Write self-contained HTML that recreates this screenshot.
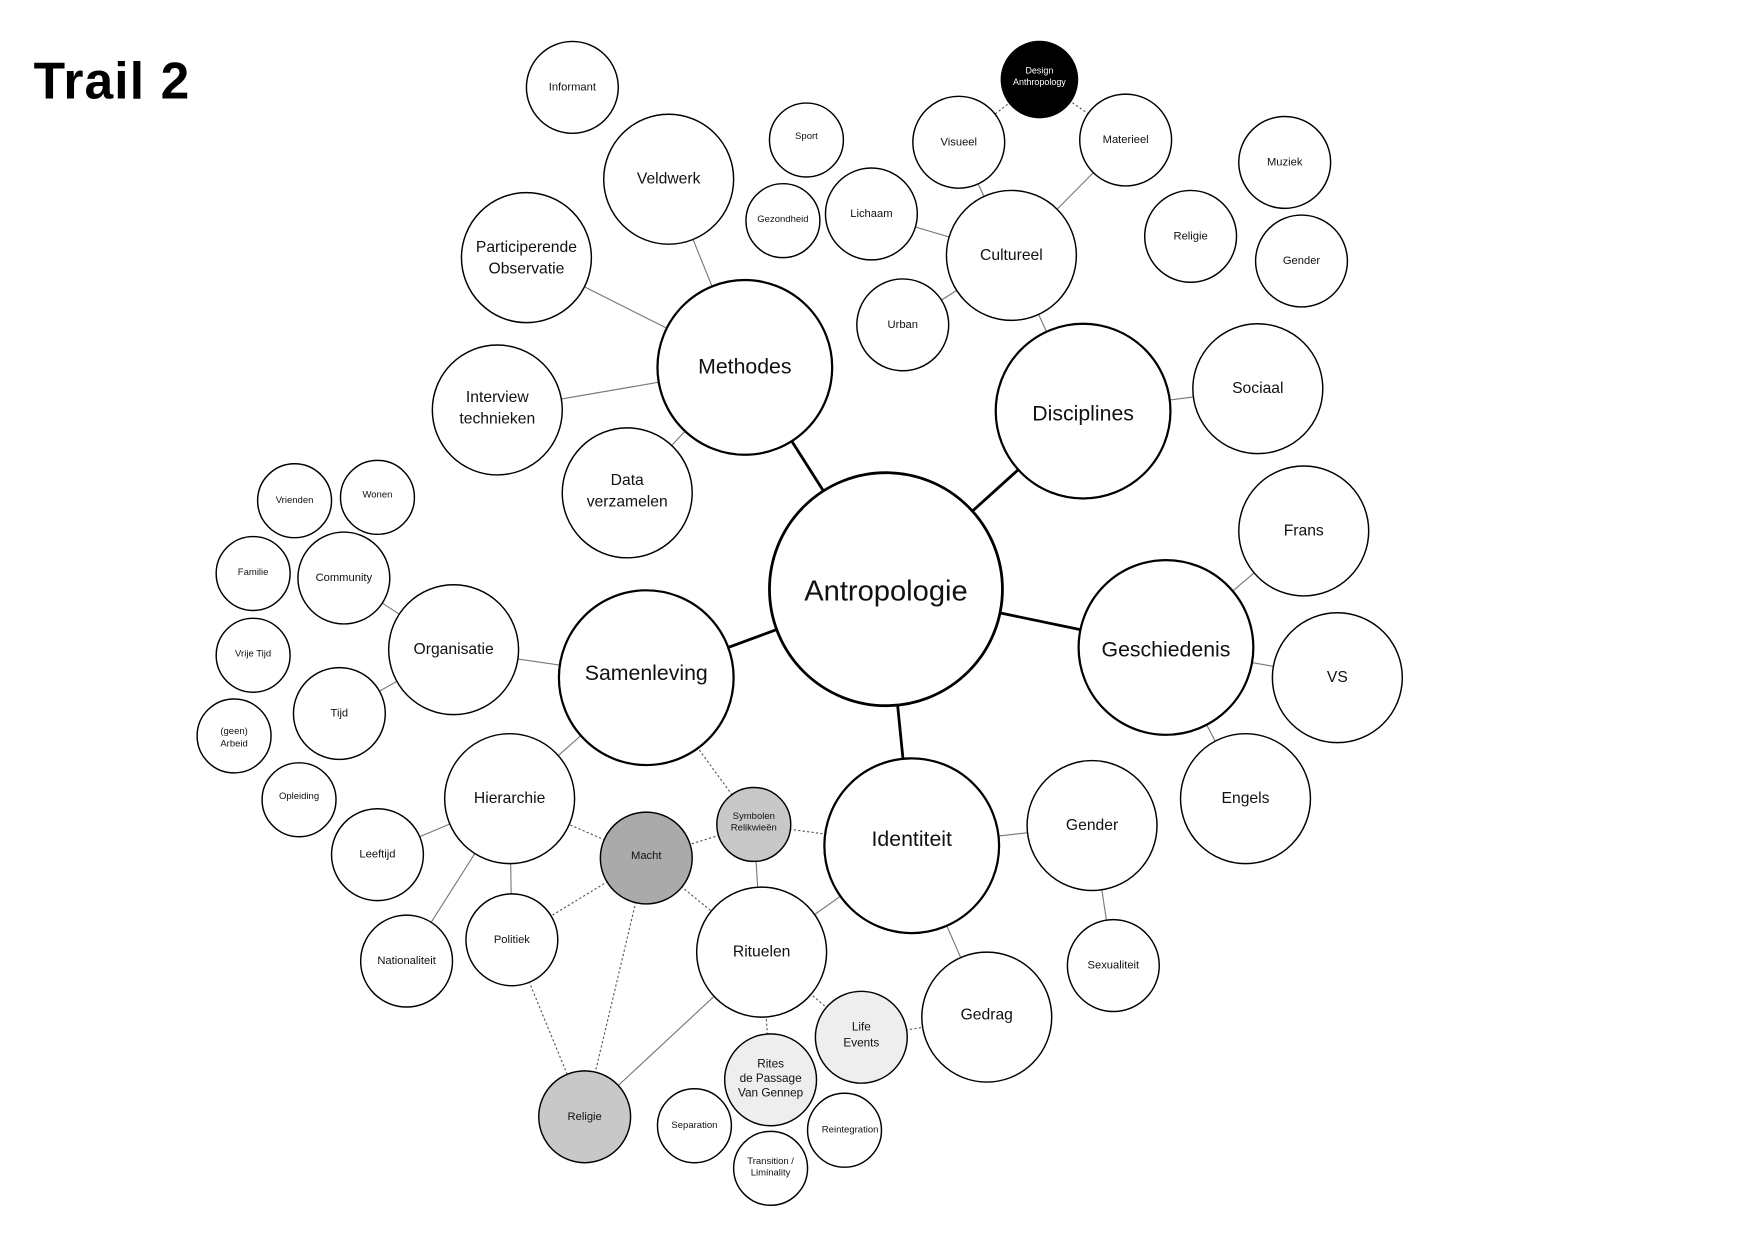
<!DOCTYPE html>
<html><head><meta charset="utf-8"><style>
html,body{margin:0;padding:0;background:#fff;}
svg{display:block;}
text{font-family:"Liberation Sans",sans-serif;text-anchor:middle;dominant-baseline:central;fill:#111;}
</style></head><body>
<svg width="1754" height="1240" viewBox="0 0 1566 1107" preserveAspectRatio="none" xmlns="http://www.w3.org/2000/svg">
<rect width="1566" height="1107" fill="#fff"/>
<text x="30" y="72" style="text-anchor:start;font-size:46px;font-weight:bold;fill:#000;letter-spacing:1px">Trail 2</text>
<g stroke="#000" stroke-width="2.5">
<line x1="791" y1="526" x2="665" y2="328"/>
<line x1="791" y1="526" x2="967" y2="367"/>
<line x1="791" y1="526" x2="1041" y2="578"/>
<line x1="791" y1="526" x2="814" y2="755"/>
<line x1="791" y1="526" x2="577" y2="605"/>
</g>
<g stroke="#777" stroke-width="1">
<line x1="665" y1="328" x2="597" y2="160"/>
<line x1="665" y1="328" x2="470" y2="230"/>
<line x1="665" y1="328" x2="444" y2="366"/>
<line x1="665" y1="328" x2="560" y2="440"/>
<line x1="967" y1="367" x2="903" y2="228"/>
<line x1="967" y1="367" x2="1123" y2="347"/>
<line x1="903" y1="228" x2="856" y2="127"/>
<line x1="903" y1="228" x2="1005" y2="125"/>
<line x1="903" y1="228" x2="778" y2="191"/>
<line x1="903" y1="228" x2="806" y2="290"/>
<line x1="1041" y1="578" x2="1164" y2="474"/>
<line x1="1041" y1="578" x2="1194" y2="605"/>
<line x1="1041" y1="578" x2="1112" y2="713"/>
<line x1="814" y1="755" x2="975" y2="737"/>
<line x1="975" y1="737" x2="994" y2="862"/>
<line x1="814" y1="755" x2="881" y2="908"/>
<line x1="814" y1="755" x2="680" y2="850"/>
<line x1="577" y1="605" x2="405" y2="580"/>
<line x1="577" y1="605" x2="455" y2="713"/>
<line x1="405" y1="580" x2="307" y2="516"/>
<line x1="405" y1="580" x2="303" y2="637"/>
<line x1="455" y1="713" x2="337" y2="763"/>
<line x1="455" y1="713" x2="363" y2="858"/>
<line x1="455" y1="713" x2="457" y2="839"/>
<line x1="680" y1="850" x2="522" y2="997"/>
<line x1="680" y1="850" x2="673" y2="736"/>
</g>
<g stroke="#555" stroke-width="1" stroke-dasharray="2,2">
<line x1="928" y1="71" x2="856" y2="127"/>
<line x1="928" y1="71" x2="1005" y2="125"/>
<line x1="577" y1="605" x2="673" y2="736"/>
<line x1="673" y1="736" x2="814" y2="755"/>
<line x1="673" y1="736" x2="577" y2="766"/>
<line x1="577" y1="766" x2="455" y2="713"/>
<line x1="577" y1="766" x2="457" y2="839"/>
<line x1="577" y1="766" x2="680" y2="850"/>
<line x1="577" y1="766" x2="522" y2="997"/>
<line x1="457" y1="839" x2="522" y2="997"/>
<line x1="680" y1="850" x2="769" y2="926"/>
<line x1="680" y1="850" x2="688" y2="964"/>
<line x1="769" y1="926" x2="881" y2="908"/>
</g>
<g stroke="#000" fill="#fff">
<circle cx="791" cy="526" r="104" stroke-width="2.5"/>
<circle cx="665" cy="328" r="78" stroke-width="2"/>
<circle cx="967" cy="367" r="78" stroke-width="2"/>
<circle cx="1041" cy="578" r="78" stroke-width="2"/>
<circle cx="814" cy="755" r="78" stroke-width="2"/>
<circle cx="577" cy="605" r="78" stroke-width="2"/>
<g stroke-width="1.3">
<circle cx="511" cy="78" r="41"/>
<circle cx="597" cy="160" r="58"/>
<circle cx="470" cy="230" r="58"/>
<circle cx="444" cy="366" r="58"/>
<circle cx="560" cy="440" r="58"/>
<circle cx="720" cy="125" r="33"/>
<circle cx="699" cy="197" r="33"/>
<circle cx="778" cy="191" r="41"/>
<circle cx="856" cy="127" r="41"/>
<circle cx="928" cy="71" r="34" fill="#000"/>
<circle cx="1005" cy="125" r="41"/>
<circle cx="903" cy="228" r="58"/>
<circle cx="806" cy="290" r="41"/>
<circle cx="1147" cy="145" r="41"/>
<circle cx="1063" cy="211" r="41"/>
<circle cx="1162" cy="233" r="41"/>
<circle cx="1123" cy="347" r="58"/>
<circle cx="1164" cy="474" r="58"/>
<circle cx="1194" cy="605" r="58"/>
<circle cx="1112" cy="713" r="58"/>
<circle cx="975" cy="737" r="58"/>
<circle cx="994" cy="862" r="41"/>
<circle cx="881" cy="908" r="58"/>
<circle cx="680" cy="850" r="58"/>
<circle cx="769" cy="926" r="41" fill="#eee"/>
<circle cx="688" cy="964" r="41" fill="#eee"/>
<circle cx="620" cy="1005" r="33"/>
<circle cx="688" cy="1043" r="33"/>
<circle cx="754" cy="1009" r="33"/>
<circle cx="522" cy="997" r="41" fill="#c8c8c8"/>
<circle cx="577" cy="766" r="41" fill="#aaa"/>
<circle cx="673" cy="736" r="33" fill="#c8c8c8"/>
<circle cx="455" cy="713" r="58"/>
<circle cx="337" cy="763" r="41"/>
<circle cx="363" cy="858" r="41"/>
<circle cx="457" cy="839" r="41"/>
<circle cx="405" cy="580" r="58"/>
<circle cx="307" cy="516" r="41"/>
<circle cx="263" cy="447" r="33"/>
<circle cx="337" cy="444" r="33"/>
<circle cx="226" cy="512" r="33"/>
<circle cx="226" cy="585" r="33"/>
<circle cx="303" cy="637" r="41"/>
<circle cx="209" cy="657" r="33"/>
<circle cx="267" cy="714" r="33"/>
</g>
</g>
<g>
<text x="791" y="528" font-size="26">Antropologie</text>
<text x="665" y="327" font-size="19">Methodes</text>
<text x="967" y="369" font-size="19">Disciplines</text>
<text x="1041" y="580" font-size="19">Geschiedenis</text>
<text x="814" y="749" font-size="19">Identiteit</text>
<text x="577" y="601" font-size="19">Samenleving</text>
<text x="511" y="78" font-size="10">Informant</text>
<text x="597" y="160" font-size="14">Veldwerk</text>
<text x="470" y="221" font-size="14">Participerende</text>
<text x="470" y="240" font-size="14">Observatie</text>
<text x="444" y="355" font-size="14">Interview</text>
<text x="444" y="374" font-size="14">technieken</text>
<text x="560" y="429" font-size="14">Data</text>
<text x="560" y="448" font-size="14">verzamelen</text>
<text x="720" y="122" font-size="8.5">Sport</text>
<text x="699" y="196" font-size="8.5">Gezondheid</text>
<text x="778" y="191" font-size="10">Lichaam</text>
<text x="856" y="127" font-size="10">Visueel</text>
<text x="928" y="63" font-size="8" style="fill:#fff">Design</text>
<text x="928" y="73" font-size="8" style="fill:#fff">Anthropology</text>
<text x="1005" y="125" font-size="10">Materieel</text>
<text x="903" y="228" font-size="14">Cultureel</text>
<text x="806" y="290" font-size="10">Urban</text>
<text x="1147" y="145" font-size="10">Muziek</text>
<text x="1063" y="211" font-size="10">Religie</text>
<text x="1162" y="233" font-size="10">Gender</text>
<text x="1123" y="347" font-size="14">Sociaal</text>
<text x="1164" y="474" font-size="14">Frans</text>
<text x="1194" y="605" font-size="14">VS</text>
<text x="1112" y="713" font-size="14">Engels</text>
<text x="975" y="737" font-size="14">Gender</text>
<text x="994" y="862" font-size="10">Sexualiteit</text>
<text x="881" y="906" font-size="14">Gedrag</text>
<text x="680" y="850" font-size="14">Rituelen</text>
<text x="769" y="917" font-size="10.5">Life</text>
<text x="769" y="931" font-size="10.5">Events</text>
<text x="688" y="950" font-size="10.5">Rites</text>
<text x="688" y="963" font-size="10.5">de Passage</text>
<text x="688" y="976" font-size="10.5">Van Gennep</text>
<text x="620" y="1005" font-size="8.5">Separation</text>
<text x="688" y="1037" font-size="8.5">Transition /</text>
<text x="688" y="1047" font-size="8.5">Liminality</text>
<text x="759" y="1009" font-size="8.5">Reintegration</text>
<text x="522" y="997" font-size="10">Religie</text>
<text x="577" y="764" font-size="10">Macht</text>
<text x="673" y="729" font-size="8.5">Symbolen</text>
<text x="673" y="739" font-size="8.5">Relikwieën</text>
<text x="455" y="713" font-size="14">Hierarchie</text>
<text x="337" y="763" font-size="10">Leeftijd</text>
<text x="363" y="858" font-size="10">Nationaliteit</text>
<text x="457" y="839" font-size="10">Politiek</text>
<text x="405" y="580" font-size="14">Organisatie</text>
<text x="307" y="516" font-size="10">Community</text>
<text x="263" y="447" font-size="8.5">Vrienden</text>
<text x="337" y="442" font-size="8.5">Wonen</text>
<text x="226" y="511" font-size="8.5">Familie</text>
<text x="226" y="584" font-size="8.5">Vrije Tijd</text>
<text x="303" y="637" font-size="10">Tijd</text>
<text x="209" y="653" font-size="8.5">(geen)</text>
<text x="209" y="664" font-size="8.5">Arbeid</text>
<text x="267" y="711" font-size="8.5">Opleiding</text>
</g>
</svg>
</body></html>
